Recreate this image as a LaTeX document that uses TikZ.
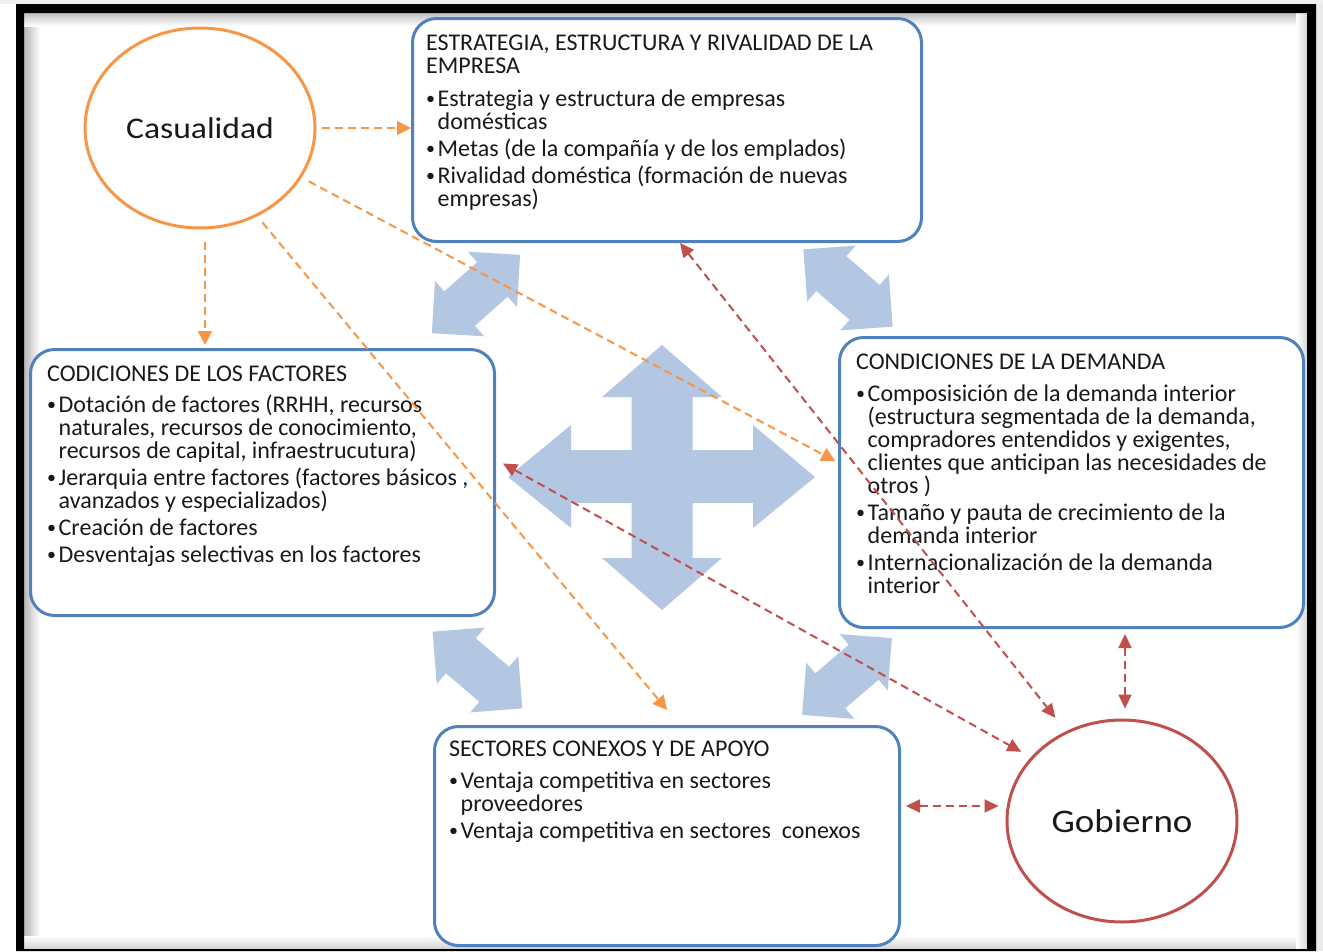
\documentclass[tikz,border=0pt]{standalone}
\usepackage{fontspec}
\setmainfont{Carlito}
\newfontfamily\ellfont{Carlito}[FakeStretch=1.12]
\usetikzlibrary{shapes.geometric,arrows.meta,calc}
\definecolor{orng}{HTML}{F79646}
\definecolor{rd}{HTML}{C0504D}
\definecolor{bbord}{HTML}{4F81BD}
\definecolor{afill}{HTML}{B3C6E2}
\newcommand\bl{\makebox[11.5pt][l]{\raisebox{1.5pt}{\fontsize{18}{18}\selectfont •}}}
\newcommand\ind{\hspace*{11.5pt}}
\begin{document}
\begin{tikzpicture}[x=1pt, y=-1pt,
  box/.style={draw=bbord, line width=3pt, rounded corners=24pt, fill=white, inner sep=0pt, anchor=north west},
  txt/.style={anchor=north west, align=left, inner sep=0pt, font=\fontsize{24}{23}\selectfont, text=black!90},
  ell/.style={ellipse, line width=3pt, fill=white, inner sep=0pt, minimum width=230pt, minimum height=200pt, text=black!90},
  odash/.style={orng, line width=2pt, dash pattern=on 8pt off 5pt, -{Triangle[length=14pt,width=14pt]}},
  rdash/.style={rd, line width=2pt, dash pattern=on 8pt off 5pt, {Triangle[length=14pt,width=13pt]}-{Triangle[length=14pt,width=13pt]}},
  dblarr/.pic={\fill[afill] (59,0) -- (22,37) -- (22,23) -- (-22,23) -- (-22,37) -- (-59,0) -- (-22,-37) -- (-22,-23) -- (22,-23) -- (22,-37) -- cycle;}
]
\useasboundingbox (0,0) rectangle (1323,951);
% background and frame
\fill[white] (0,0) rectangle (1323,951);
\fill[black!8] (1316,0) rectangle (1323,951);
\fill[black!6] (0,0) rectangle (1323,4);
\shade[left color=black!28, right color=white] (24,13) rectangle (40,949);
\shade[top color=black!25, bottom color=white] (24,13) rectangle (1307,26);
\shade[top color=white, bottom color=black!18] (24,936) rectangle (1307,949);
\shade[left color=white, right color=black!15] (1296,13) rectangle (1307,949);
\fill[black, even odd rule] (16,4) rectangle (1316,951) (24,13) rectangle (1307,949);

% blue arrows
\fill[afill] (662,345) -- (722,397) -- (692.5,397) -- (692.5,450) -- (753,450) -- (753,425) -- (815,477)
  -- (753,528) -- (753,503) -- (692.5,503) -- (692.5,558) -- (722,558) -- (662,610) -- (602,558)
  -- (631.5,558) -- (631.5,503) -- (571,503) -- (571,528) -- (508,477) -- (571,425) -- (571,450)
  -- (631.5,450) -- (631.5,397) -- (602,397) -- cycle;
\pic[rotate=41.6] at (476,294) {dblarr};
\pic[rotate=-40.9] at (848,288) {dblarr};
\pic[rotate=-40.5] at (477.5,670) {dblarr};
\pic[rotate=40.5] at (847,676.5) {dblarr};

% boxes
\node[box, minimum width=509pt, minimum height=223pt] (estr) at (411,17) {};
\node[box, minimum width=464pt, minimum height=266pt] (fact) at (29,348) {};
\node[box, minimum width=464pt, minimum height=290pt] (dem) at (838,336) {};
\node[box, minimum width=465pt, minimum height=219pt] (sect) at (433,725) {};

\node[txt] (estrT) at (426,30) {\rule{0pt}{20pt}ESTRATEGIA, ESTRUCTURA Y RIVALIDAD DE LA\\
EMPRESA\\[10pt]
\bl Estrategia y estructura de empresas\\
\ind domésticas\\[4pt]
\bl Metas (de la compañía y de los emplados)\\[4pt]
\bl Rivalidad doméstica (formación de nuevas\\
\ind empresas)};

\node[txt] (factT) at (47,361) {\rule{0pt}{20pt}CODICIONES DE LOS FACTORES\\[8pt]
\bl Dotación de factores (RRHH, recursos\\
\ind naturales, recursos de conocimiento,\\
\ind recursos de capital, infraestrucutura)\\[4pt]
\bl Jerarquia entre factores (factores básicos ,\\
\ind avanzados y especializados)\\[4pt]
\bl Creación de factores\\[4pt]
\bl Desventajas selectivas en los factores};

\node[txt] (demT) at (856,349) {\rule{0pt}{20pt}CONDICIONES DE LA DEMANDA\\[9pt]
\bl Composisición de la demanda interior\\
\ind (estructura segmentada de la demanda,\\
\ind compradores entendidos y exigentes,\\
\ind clientes que anticipan las necesidades de\\
\ind otros )\\[4pt]
\bl Tamaño y pauta de crecimiento de la\\
\ind demanda interior\\[4pt]
\bl Internacionalización de la demanda\\
\ind interior};

\node[txt] (sectT) at (449,736) {\rule{0pt}{20pt}SECTORES CONEXOS Y DE APOYO\\[9pt]
\bl Ventaja competitiva en sectores\\
\ind proveedores\\[4pt]
\bl Ventaja competitiva en sectores\ \ conexos};

% ellipses
\node[ell, draw=orng, font=\ellfont\fontsize{30}{36}\selectfont] (cas) at (200,128) {Casualidad};
\node[ell, draw=rd, minimum height=202pt, font=\ellfont\fontsize{33}{40}\selectfont] (gob) at (1122,821) {Gobierno};

% connectors
\coordinate (cs) at ([xshift=5pt]cas.south);
\coordinate (gt) at ([xshift=3pt]gob.north);
\coordinate (gl) at ($(gob.west)+(0,-15)$);
\draw[odash, shorten <=5pt] (cas.east) -- (cas.east -| estr.west);
\draw[odash, shorten <=12pt, shorten >=3pt] (cs) -- (cs |- fact.north);
\draw[odash, shorten <=8pt, shorten >=3pt] (cas.-26) -- ([yshift=20pt]dem.west);
\draw[odash, shorten <=8pt] (cas.-57) -- ([yshift=15pt]sect.north);

\draw[rdash, shorten >=17pt] ([xshift=13pt]estr.south) -- (gob.122);
\draw[rdash, shorten >=11pt] ([xshift=7pt,yshift=19pt]fact.east) -- (gob.145);
\draw[rdash, shorten <=5pt, shorten >=10pt] (gt |- dem.south) -- (gt);
\draw[rdash, shorten <=5pt, shorten >=7pt] (sect.east |- gl) -- (gl);
\end{tikzpicture}
\end{document}
